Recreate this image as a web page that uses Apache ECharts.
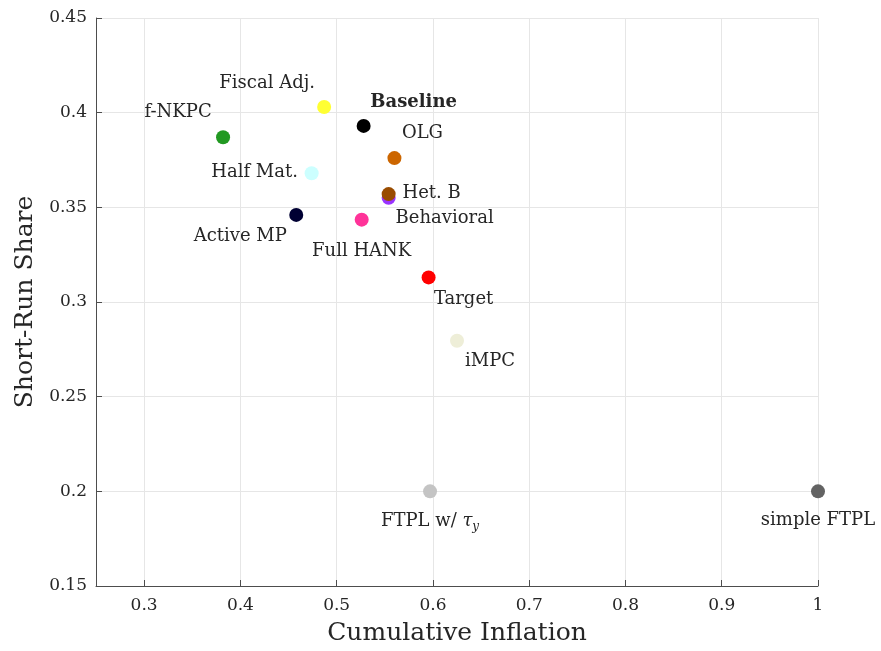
<!DOCTYPE html>
<html><head><meta charset="utf-8">
<script src="https://cdn.jsdelivr.net/npm/echarts@6/dist/echarts.min.js"></script>
<style>html,body{margin:0;padding:0;background:#fff}#c{width:881px;height:651px}</style>
</head><body><div id="c"></div>
<script>
const names = ['Fiscal Adj.','Baseline','f-NKPC','OLG','Half Mat.','Het. B','Behavioral','Active MP','Full HANK','Target','iMPC','FTPL w/ τy','simple FTPL'];
const cumInflation = [0.487,0.528,0.382,0.560,0.474,0.554,0.554,0.458,0.526,0.5955,0.625,0.597,1.0];
const shortRunShare = [0.403,0.393,0.387,0.376,0.368,0.357,0.355,0.346,0.3435,0.313,0.2795,0.2,0.2];
const xTicks = [0.3,0.4,0.5,0.6,0.7,0.8,0.9,1.0];

const colors = ['#ffff33','#000000','#229922','#cc6600','#ccffff','#994c00','#9933ff','#000033','#ff3399','#ff0000','#eeeed8','#c4c4c4','#636363'];
const labelOffsets = [[-57,-24],[50,-24],[-45,-25],[28,-25],[-57,-1],[43,-1],[56,20],[-56,21],[0,32],[35,22],[33,21],[0,30],[0,29]];
const order = [12,11,10,9,8,7,6,5,4,3,2,1,0];

const FONT = 'DejaVu Serif';
const TXT = '#262626';
const data = order.map(i => {
  const label = {show:true, position:'inside', offset:labelOffsets[i], color:TXT, fontFamily:FONT, fontSize:18};
  if (i === 1) label.fontWeight = 'bold';
  if (i === 11) {
    label.formatter = 'FTPL w/ {it|τ}{sub|y}';
    label.rich = {it:{fontStyle:'italic', fontFamily:FONT, fontSize:18, color:TXT}, sub:{fontStyle:'italic', fontFamily:FONT, fontSize:12, color:TXT, padding:[11,0,0,0]}};
  } else {
    label.formatter = names[i];
  }
  return {name:names[i], value:[cumInflation[i], shortRunShare[i]], itemStyle:{color:colors[i], opacity:1}, label};
});

const chart = echarts.init(document.getElementById('c'));
chart.setOption({
  animation:false,
  grid:{left:96,right:63,top:18,bottom:64,containLabel:false},
  xAxis:{type:'value',min:0.25,max:1.0,
    name:'Cumulative Inflation',nameLocation:'middle',nameGap:35,
    nameTextStyle:{fontFamily:FONT,fontSize:25,color:TXT},
    axisLine:{show:true,lineStyle:{color:'#4d4d4d'}},
    axisTick:{show:true,inside:true,length:6,customValues:xTicks,lineStyle:{color:'#4d4d4d'}},
    axisLabel:{customValues:xTicks,fontFamily:FONT,fontSize:17,color:TXT,margin:11,formatter:v=>String(+v.toFixed(2))},
    splitLine:{show:true,lineStyle:{color:'#e6e6e6'}}},
  yAxis:{type:'value',min:0.15,max:0.45,interval:0.05,
    name:'Short-Run Share',nameLocation:'middle',nameGap:53,
    nameTextStyle:{fontFamily:FONT,fontSize:25,color:TXT},
    axisLine:{show:true,lineStyle:{color:'#4d4d4d'}},
    axisTick:{show:true,inside:true,length:6,lineStyle:{color:'#4d4d4d'}},
    axisLabel:{fontFamily:FONT,fontSize:17,color:TXT,margin:9,formatter:v=>String(+v.toFixed(2))},
    splitLine:{show:true,lineStyle:{color:'#e6e6e6'}}},
  series:[{type:'scatter',symbolSize:14,data:data,clip:false,emphasis:{disabled:true}}]
});
</script></body></html>
